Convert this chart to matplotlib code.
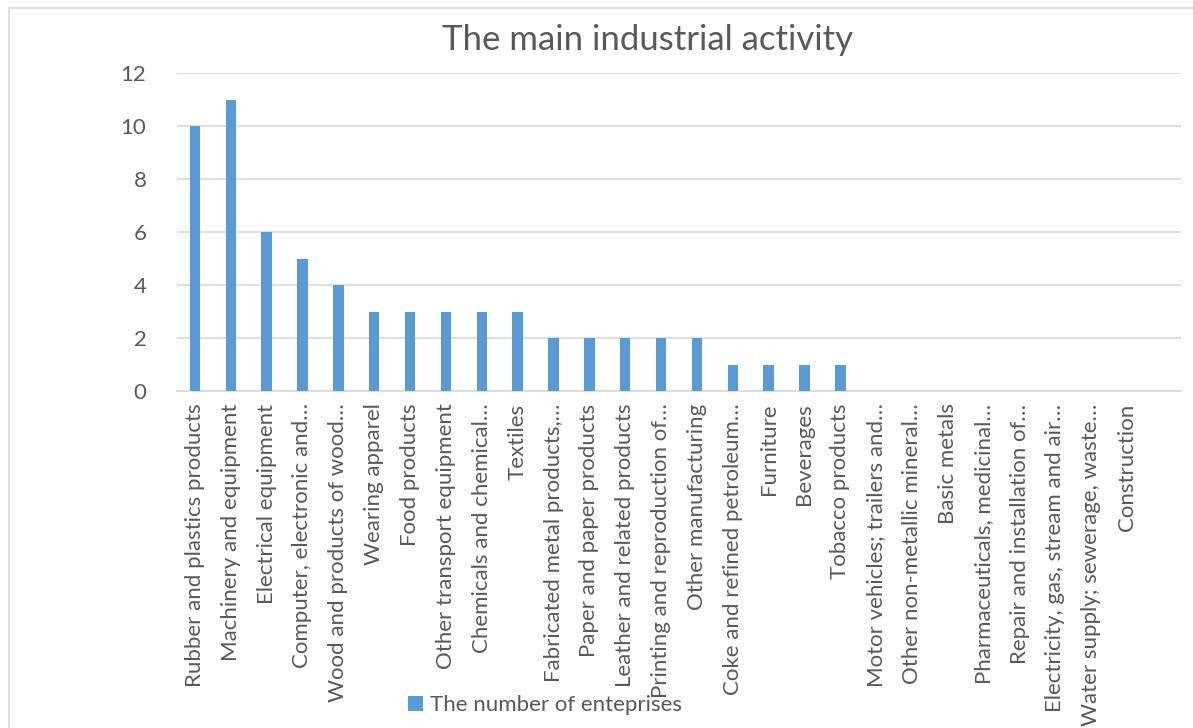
import matplotlib.pyplot as plt
from matplotlib.patches import Rectangle

# Categorias e número de empresas (a última posição fica vazia no eixo)
categorias = [
    "Rubber and plastics products",
    "Machinery and equipment",
    "Electrical equipment",
    "Computer, electronic and…",
    "Wood and products of wood…",
    "Wearing apparel",
    "Food products",
    "Other transport equipment",
    "Chemicals and chemical…",
    "Textiles",
    "Fabricated metal products,…",
    "Paper and paper products",
    "Leather and related products",
    "Printing and reproduction of…",
    "Other manufacturing",
    "Coke and refined petroleum…",
    "Furniture",
    "Beverages",
    "Tobacco products",
    "Motor vehicles; trailers and…",
    "Other non-metallic mineral…",
    "Basic metals",
    "Pharmaceuticals, medicinal…",
    "Repair and installation of…",
    "Electricity, gas, stream and air…",
    "Water supply; sewerage, waste…",
    "Construction",
]
empresas = [10, 11, 6, 5, 4, 3, 3, 3, 3, 3, 2, 2, 2, 2, 2, 1, 1, 1, 1,
            0, 0, 0, 0, 0, 0, 0, 0]
y_ticks = [0, 2, 4, 6, 8, 10, 12]

plt.rcParams['font.family'] = ['Lato', 'DejaVu Sans']
cinza = '#595959'

fig = plt.figure(figsize=(11.93, 7.28), dpi=100)
ax = fig.add_axes([177 / 1193, 1 - 391 / 728, (1181 - 177) / 1193, (391 - 73) / 728])

x = range(len(categorias))
ax.bar(x, empresas, width=0.29, color='#5B9BD5', label='The number of enteprises', zorder=3)

ax.set_xlim(-0.5, len(categorias) + 0.5)
ax.set_ylim(0, 12)
ax.set_yticks(y_ticks)
ax.set_xticks(list(x))
ax.set_xticklabels(categorias, rotation=90, fontsize=16, color=cinza)
ax.tick_params(axis='y', labelsize=16, labelcolor=cinza, length=0, pad=22)
ax.tick_params(axis='x', length=0, pad=9)

ax.grid(axis='y', color='#D9D9D9', linewidth=1.2, zorder=0)
for lado in ['top', 'right', 'left']:
    ax.spines[lado].set_visible(False)
ax.spines['bottom'].set_color('#D9D9D9')
ax.spines['bottom'].set_linewidth(1.2)

fig.text(648 / 1193, 1 - 40 / 728, 'The main industrial activity', ha='center', va='center',
         fontsize=25, color=cinza)

fig.legend(loc='center', bbox_to_anchor=(545 / 1193, 1 - 705 / 728), frameon=False,
           fontsize=16, labelcolor=cinza, handlelength=0.65, handleheight=0.65,
           handletextpad=0.3)

# Borda do gráfico
fig.patches.append(Rectangle((9 / 1193, -0.01), 1.02, 1 - 8 / 728 + 0.01,
                             transform=fig.transFigure, fill=False,
                             edgecolor='#D9D9D9', linewidth=1.2))

fig.savefig('out.png', dpi=100)
